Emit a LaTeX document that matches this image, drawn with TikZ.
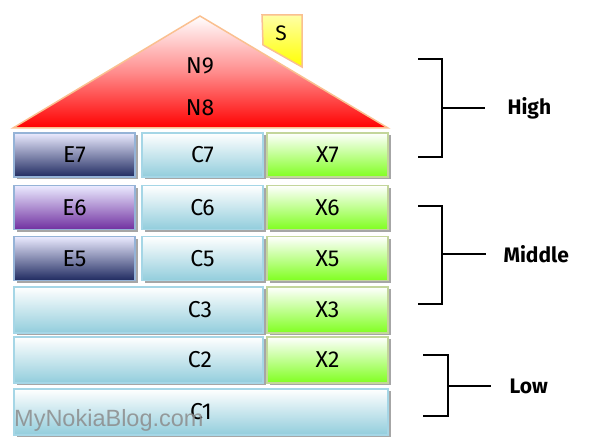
\documentclass[tikz,border=0pt]{standalone}
\usepackage{fontspec}
\setmainfont{Fira Sans}
\newfontfamily\wmfont{Liberation Sans}
\usetikzlibrary{shadows}
\definecolor{navy}{HTML}{1F2A60}
\definecolor{purp}{HTML}{7030A0}
\definecolor{eborder}{HTML}{95B3D7}
\definecolor{cblue}{HTML}{92CDDC}
\definecolor{cborder}{HTML}{A5D6E6}
\definecolor{xgreen}{HTML}{80FF20}
\definecolor{xborder}{HTML}{C3D69B}
\definecolor{roofline}{HTML}{FAC090}
\begin{document}
\begin{tikzpicture}[x=1pt,y=-1pt]
				\tikzstyle{block} = [rectangle,draw,line width=1.5pt,inner sep=0pt,font=\fontsize{23}{23}\selectfont,
				  drop shadow={shadow xshift=2.5pt,shadow yshift=-2.5pt,fill=black!35,opacity=1}]
				\tikzstyle{ebox} = [block,draw=eborder,top color=blue!8!white,bottom color=navy,minimum width=121,minimum height=44]
				\tikzstyle{cbox} = [block,draw=cborder,top color=white,bottom color=cblue,minimum height=44]
				\tikzstyle{xbox} = [block,draw=xborder,top color=white,bottom color=xgreen,minimum width=121,minimum height=44]
				\tikzstyle{level} = [font=\fontsize{21}{21}\selectfont\bfseries,anchor=west]
				\tikzstyle{brace} = [line width=2.5pt]
				
				\useasboundingbox (0,0) rectangle (600,443);
				
				% roof and sign
				\shade[top color=white,bottom color=red,middle color=red!45!white,draw=roofline,line width=1.5pt]
				  (200,16) -- (388,128) -- (13,128) -- cycle;
				\node[font=\fontsize{23}{23}\selectfont] (n9) at (200,66) {N9};
				\node[font=\fontsize{23}{23}\selectfont] (n8) at (200,108) {N8};
				\shade[top color=yellow!35!white,bottom color=yellow,draw=roofline,line width=1.5pt]
				  (262,15) -- (302,15) -- (302,67) -- (263,45) -- cycle;
				\node[font=\fontsize{21}{21}\selectfont] (s) at (281,33) {S};
				
				% floors
				\node[ebox] (e7) at (74.5,155) {E7};
				\node[cbox,minimum width=121] (c7) at (202.5,155) {C7};
				\node[xbox] (x7) at (327.5,155) {X7};
				
				\node[ebox,bottom color=purp] (e6) at (74.5,207.5) {E6};
				\node[cbox,minimum width=121] (c6) at (202.5,207.5) {C6};
				\node[xbox] (x6) at (327.5,207.5) {X6};
				
				\node[ebox] (e5) at (74.5,258.5) {E5};
				\node[cbox,minimum width=121] (c5) at (202.5,258.5) {C5};
				\node[xbox] (x5) at (327.5,258.5) {X5};
				
				\node[cbox,minimum width=249,minimum height=46,label={[xshift=61.5pt,font=\fontsize{23}{23}\selectfont]center:C3}] (c3) at (138.5,310) {};
				\node[xbox,minimum height=46] (x3) at (327.5,310) {X3};
				
				\node[cbox,minimum width=249,minimum height=46,label={[xshift=61.5pt,font=\fontsize{23}{23}\selectfont]center:C2}] (c2) at (138.5,360) {};
				\node[xbox,minimum height=46] (x2) at (327.5,360) {X2};
				
				\node[cbox,minimum width=374,minimum height=46] (c1) at (201,412) {C1};
				
				\node[anchor=base west,inner sep=0pt,text=black!45,opacity=0.85,font=\wmfont\fontsize{23.5}{23.5}\selectfont] (wm) at (14,427) {MyNokiaBlog.com};
				
				% levels
				\node[level] (high) at (504,108) {High};
				\node[level] (middle) at (500,254) {Middle};
				\node[level] (low) at (506,386) {Low};
				
				\draw[brace] (418,59) -| (442,157) -- (418,157);
				\draw[brace] (442,108) -- ([xshift=-19pt]high.west);
				\draw[brace] (418,206) -| (442,304) -- (418,304);
				\draw[brace] (442,254) -- ([xshift=-14pt]middle.west);
				\draw[brace] (423,355) -| (448,416) -- (423,416);
				\draw[brace] (448,386) -- ([xshift=-15pt]low.west);
			\end{tikzpicture}
\end{document}
